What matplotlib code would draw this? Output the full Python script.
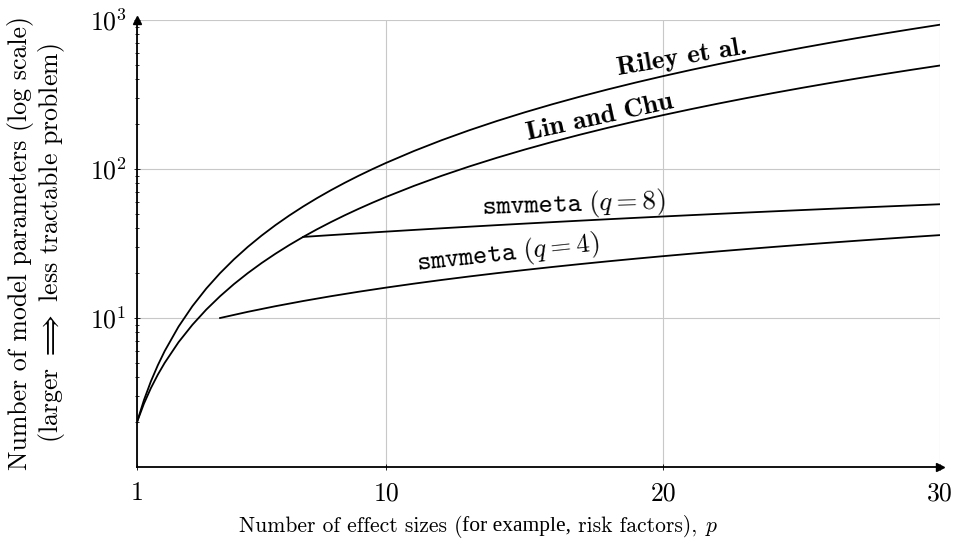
import matplotlib
matplotlib.use("Agg")
import matplotlib.pyplot as plt
from matplotlib.offsetbox import TextArea, HPacker, AnchoredOffsetbox
from matplotlib.ticker import LogLocator, NullFormatter

plt.rcParams['mathtext.fontset'] = 'cm'
plt.rcParams['axes.formatter.use_mathtext'] = True
plt.rcParams['font.family'] = ['cmr10', 'DejaVu Serif']

# ---- data ----
p_big = [1, 1.25, 1.5, 1.75, 2, 2.5, 3, 3.5, 4, 4.5, 5, 5.5, 6, 6.5, 7, 7.5,
         8, 8.5, 9, 9.5, 10, 11, 12, 13, 14, 15, 16, 17, 18, 19, 20, 21, 22,
         23, 24, 25, 26, 27, 28, 29, 30]
riley = [2, 2.81, 3.75, 4.81, 6, 8.75, 12, 15.75, 20, 24.75, 30, 35.75, 42,
         48.75, 56, 63.75, 72, 80.75, 90, 99.75, 110, 132, 156, 182, 210, 240,
         272, 306, 342, 380, 420, 462, 506, 552, 600, 650, 702, 756, 812, 870, 930]
lin_chu = [2, 2.66, 3.38, 4.16, 5, 6.88, 9, 11.38, 14, 16.88, 20, 23.38, 27,
           30.88, 35, 39.38, 44, 48.88, 54, 59.38, 65, 77, 90, 104, 119, 135,
           152, 170, 189, 209, 230, 252, 275, 299, 324, 350, 377, 405, 434, 464, 495]
p_q8 = list(range(7, 31))
smv_q8 = [35, 36, 37, 38, 39, 40, 41, 42, 43, 44, 45, 46, 47, 48, 49, 50,
          51, 52, 53, 54, 55, 56, 57, 58]
p_q4 = list(range(4, 31))
smv_q4 = [10, 11, 12, 13, 14, 15, 16, 17, 18, 19, 20, 21, 22, 23, 24, 25,
          26, 27, 28, 29, 30, 31, 32, 33, 34, 35, 36]

x_ticks = [1, 10, 20, 30]
x_ticklabels = ['1', '10', '20', '30']
y_ticks = [10, 100, 1000]
y_ticklabels = [r'$10^1$', r'$10^2$', r'$10^3$']

FS_TICK = 18.5
FS_LAB = 19.5
FS_Y = 18.6
FS_X = 15.5

fig = plt.figure(figsize=(9.57, 5.44), dpi=100)
ax = fig.add_axes([137/957, 1-467/544, (940-137)/957, (467-20)/544])

lw = 1.3
ax.plot(p_big, riley, color='black', lw=lw)
ax.plot(p_big, lin_chu, color='black', lw=lw)
ax.plot(p_q8, smv_q8, color='black', lw=lw)
ax.plot(p_q4, smv_q4, color='black', lw=lw)

ax.set_yscale('log')
ax.set_xlim(1, 30)
ax.set_ylim(1, 1000)

ax.set_xticks(x_ticks)
ax.set_xticklabels(x_ticklabels, fontsize=FS_TICK)
ax.set_yticks(y_ticks)
ax.set_yticklabels(y_ticklabels, fontsize=FS_TICK)
ax.yaxis.set_minor_locator(LogLocator(base=10, subs=range(2, 10)))
ax.yaxis.set_minor_formatter(NullFormatter())
ax.tick_params(which='major', direction='inout', length=5, width=0.6)
ax.tick_params(axis='x', which='major', pad=8)
ax.tick_params(axis='y', which='major', pad=5)
ax.tick_params(which='minor', direction='inout', length=3.5, width=0.6)

ax.grid(True, which='major', color='#c8c8c8', lw=0.8)
ax.set_axisbelow(True)

for s in ['top', 'right']:
    ax.spines[s].set_visible(False)
for s in ['left', 'bottom']:
    ax.spines[s].set_linewidth(1.3)
    ax.spines[s].set_zorder(3)

ax.plot(1, 0, marker='>', color='black', ms=6, transform=ax.transAxes, clip_on=False, zorder=4)
ax.plot(0, 1, marker='^', color='black', ms=6, transform=ax.transAxes, clip_on=False, zorder=4)

# curve labels (anchored at left baseline)
ax.text(18.37, 430, 'Riley et al.', family='cmb10', fontsize=FS_LAB, rotation=9.5,
        rotation_mode='anchor', ha='left', va='baseline')
ax.text(15.12, 157, 'Lin and Chu', family='cmb10', fontsize=FS_LAB, rotation=12.4,
        rotation_mode='anchor', ha='left', va='baseline')
ax.text(13.46, 49.7, r'$\mathtt{smvmeta}\ (q=8)$', fontsize=FS_LAB, rotation=1.8,
        rotation_mode='anchor', ha='left', va='baseline')
ax.text(11.11, 20.9, r'$\mathtt{smvmeta}\ (q=4)$', fontsize=FS_LAB, rotation=6.2,
        rotation_mode='anchor', ha='left', va='baseline')

# y label
fig.text(37/957, 1-243/544,
         'Number of model parameters (log scale)\n(larger $\\Longrightarrow$ less tractable problem)',
         fontsize=FS_Y, linespacing=1.08, rotation=90, ha='center', va='center',
         multialignment='center')

# x label with mixed fonts
parts = [
    TextArea('Number of effect sizes (', textprops=dict(family='cmr10', fontsize=FS_X)),
    TextArea('for example,', textprops=dict(family='Liberation Serif', fontsize=FS_X)),
    TextArea(' risk factors), ', textprops=dict(family='cmr10', fontsize=FS_X)),
    TextArea('$p$', textprops=dict(fontsize=FS_X)),
]
box = HPacker(children=parts, align='baseline', pad=0, sep=0)
anch = AnchoredOffsetbox(loc='center', child=box, frameon=False, pad=0,
                         bbox_to_anchor=(0.5, 1-526/544), bbox_transform=fig.transFigure)
fig.add_artist(anch)

fig.savefig('out.png', dpi=100)
